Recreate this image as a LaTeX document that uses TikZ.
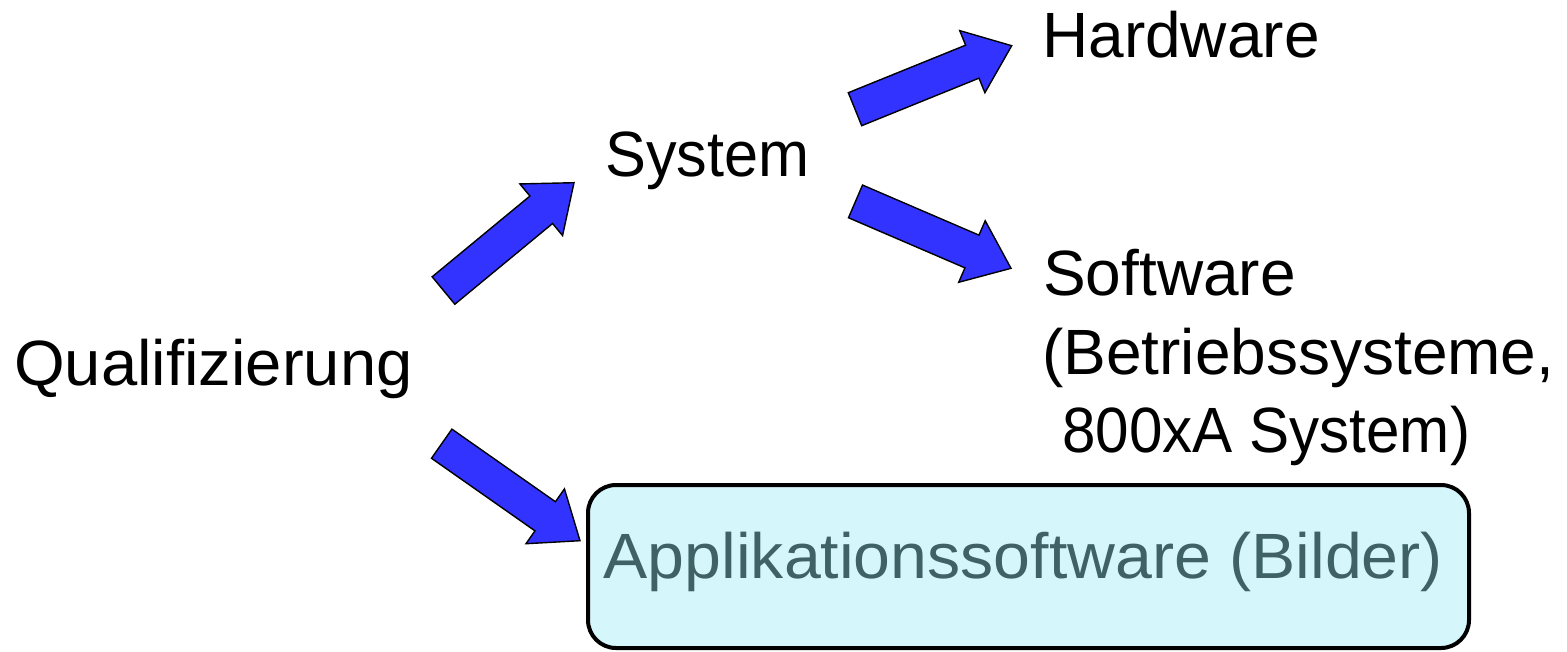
\documentclass[tikz,border=0pt]{standalone}
\usepackage{fontspec}
\setmainfont{Liberation Sans}
\usetikzlibrary{calc}

\definecolor{arrowblue}{HTML}{3333FF}
\definecolor{boxfill}{HTML}{D5F7FC}
\definecolor{boxtext}{HTML}{3E6266}

% block arrow from tail #1 to tip #2
\newcommand\blockarrow[2]{%
  \draw[blockarrow]
    ($(#1)!17.8pt!90:(#2)$)
    -- ($($(#2)!42.5pt!(#1)$)!17.8pt!-90:(#1)$)
    -- ($($(#2)!42.5pt!(#1)$)!33.5pt!-90:(#1)$)
    -- (#2)
    -- ($($(#2)!42.5pt!(#1)$)!33.5pt!90:(#1)$)
    -- ($($(#2)!42.5pt!(#1)$)!17.8pt!90:(#1)$)
    -- ($(#1)!17.8pt!-90:(#2)$)
    -- cycle;}

\begin{document}
\begin{tikzpicture}[x=1pt,y=-1pt,
  label/.style={inner sep=0pt,anchor=base west,font=\fontsize{64}{79}\selectfont},
  blockarrow/.style={draw=black,line width=1.4pt,fill=arrowblue,line join=miter},
  appbox/.style={draw=black,line width=4pt,fill=boxfill,rounded corners=28pt,
    minimum width=881pt,minimum height=163pt,inner sep=0pt,
    text height=48pt,text depth=25pt,text=boxtext,
    font=\fontsize{64}{79}\selectfont}]
  \useasboundingbox (0,0) rectangle (1567,651);

  % labels
  \node[label] (qual) at (14,385) {\scalebox{1.018}[1]{Qualifizierung}};
  \node[label] (sys)  at (605,176) {\scalebox{0.957}[1]{System}};
  \node[label] (hw)   at (1042,57) {Hardware};
  \node[label] (sw1)  at (1043,295) {Software};
  \node[label] (sw2)  at (1042,374) {(Betriebssysteme,};
  \node[label] (sw3)  at (1062,452) {\scalebox{0.94}[1]{800xA System)}};
  \node[appbox] (app) at (1028.5,566.5) {\scalebox{1.035}[1]{Applikationssoftware (Bilder)\kern10pt}};

  % arrow ends
  \coordinate (qs-t) at (443.5,290.5);
  \coordinate (qs-h) at (574,182.7);
  \coordinate (sh-t) at (855,109.2);
  \coordinate (sh-h) at (1011.7,45.7);
  \coordinate (ss-t) at (855.5,201.4);
  \coordinate (ss-h) at (1011,268.3);
  \coordinate (qa-t) at (441.7,443.7);
  \coordinate (qa-h) at (580,540.7);

  \blockarrow{qs-t}{qs-h}
  \blockarrow{sh-t}{sh-h}
  \blockarrow{ss-t}{ss-h}
  \blockarrow{qa-t}{qa-h}
\end{tikzpicture}
\end{document}
